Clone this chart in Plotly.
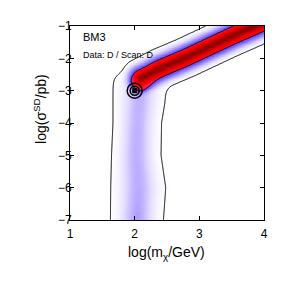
import numpy as np
import plotly.graph_objects as go

# ---- axes ----
x_ticks = [1, 2, 3, 4]
x_tick_labels = ["1", "2", "3", "4"]
y_ticks = [-7, -6, -5, -4, -3, -2, -1]
y_tick_labels = ["\u22127", "\u22126", "\u22125", "\u22124", "\u22123", "\u22122", "\u22121"]

# ---- vertical (low-likelihood) band: outer-contour edges read at several heights ----
band_y = [-7.0, -6.0, -5.0, -4.0, -3.4, -2.8]
band_left = [1.63, 1.63, 1.64, 1.66, 1.66, 1.66]
band_right = [2.44, 2.48, 2.41, 2.42, 2.47, 2.50]
band_peak = [0.26, 0.25, 0.245, 0.24, 0.24, 0.24]
band_top = -2.5

# ---- diagonal (high-likelihood) ridge ----
ridge_x = [2.10, 2.40, 2.80, 3.47, 4.05]
ridge_y = [-2.62, -2.31, -1.97, -1.34, -0.83]
# cross-section of the ridge (distance in x-units, perpendicular) -> relative likelihood
ridge_profile_d = [0.0, 0.03, 0.06, 0.10, 0.128, 0.16, 0.20, 0.25, 0.31, 0.45]
ridge_profile_z = [1.0, 0.93, 0.78, 0.50, 0.32, 0.30, 0.26, 0.16, 0.0455, 0.0]

best_fit_x = [2.0]
best_fit_y = [-3.0]

contour_levels = [0.0455, 0.32]

# ---- build likelihood field from the read values ----
xs = np.linspace(1, 4, 301)
ys = np.linspace(-7, -1, 301)
X, Y = np.meshgrid(xs, ys)

c = (np.interp(Y, band_y, band_left) + np.interp(Y, band_y, band_right)) / 2
s = (np.interp(Y, band_y, band_right) - np.interp(Y, band_y, band_left)) / 2 / 1.845
amp = np.interp(Y, band_y, band_peak)
z_v = amp * np.exp(-(X - c) ** 2 / (2 * s ** 2)) / (1 + np.exp((Y - band_top) / 0.1))

U, V = X, Y / 2.0
d = np.full(X.shape, np.inf)
for i in range(len(ridge_x) - 1):
    ax, ay = ridge_x[i], ridge_y[i] / 2
    bx, by = ridge_x[i + 1], ridge_y[i + 1] / 2
    vx, vy = bx - ax, by - ay
    t = np.clip(((U - ax) * vx + (V - ay) * vy) / (vx * vx + vy * vy), 0, 1)
    dd = np.hypot(U - (ax + t * vx), V - (ay + t * vy))
    d = np.minimum(d, dd)
z_d = np.interp(d, ridge_profile_d, ridge_profile_z)

p = 3
Z = (z_v ** p + z_d ** p) ** (1 / p)

colorscale = [
    [0.00, "#ffffff"],
    [0.05, "#fefeff"],
    [0.10, "#f6f3ff"],
    [0.18, "#e2daff"],
    [0.25, "#bcacff"],
    [0.28, "#9686ff"],
    [0.31, "#6656f8"],
    [0.325, "#c030a0"],
    [0.34, "#ff1a30"],
    [0.45, "#ff0000"],
    [0.65, "#ee0000"],
    [0.82, "#c80000"],
    [1.00, "#8a0000"],
]

fig = go.Figure()
fig.add_trace(go.Heatmap(x=xs, y=ys, z=Z, colorscale=colorscale, zmin=0, zmax=1,
                         showscale=False, hoverinfo="skip"))
for lev in contour_levels:
    fig.add_trace(go.Contour(x=xs, y=ys, z=Z, autocontour=False,
                             contours=dict(start=lev, end=lev, size=1, coloring="none"),
                             line=dict(color="black", width=1), showscale=False,
                             hoverinfo="skip"))

fig.add_trace(go.Scatter(x=best_fit_x, y=best_fit_y, mode="markers",
                         marker=dict(symbol="circle-open", size=15, color="black",
                                     line=dict(width=1.5, color="black"))))
fig.add_trace(go.Scatter(x=best_fit_x, y=best_fit_y, mode="markers",
                         marker=dict(symbol="circle-open", size=9, color="black",
                                     line=dict(width=1.5, color="black"))))
fig.add_trace(go.Scatter(x=best_fit_x, y=best_fit_y, mode="markers",
                         marker=dict(symbol="square", size=5, color="black")))

font_family = "Liberation Sans, Arial, sans-serif"
axis_common = dict(showgrid=False, zeroline=False, showline=True, linecolor="black",
                   linewidth=1, mirror="allticks", ticks="inside", ticklen=4,
                   tickcolor="black", tickfont=dict(size=12, color="black", family=font_family))

fig.update_layout(
    width=283, height=283,
    margin=dict(l=62, r=27, t=18, b=71),
    paper_bgcolor="white", plot_bgcolor="white",
    showlegend=False,
    xaxis=dict(range=[1, 4], tickvals=x_ticks, ticktext=x_tick_labels,
               ticklabelstandoff=3, **axis_common),
    yaxis=dict(range=[-7, -1], tickvals=y_ticks, ticktext=y_tick_labels,
               ticklabelstandoff=-5, **axis_common),
    annotations=[
        dict(x=1.165, y=-1.34, xref="x", yref="y", text="BM3", showarrow=False,
             xanchor="left", yanchor="middle", font=dict(size=11, color="black", family=font_family)),
        dict(x=1.165, y=-1.90, xref="x", yref="y", text="Data: D / Scan: D", showarrow=False,
             xanchor="left", yanchor="middle", font=dict(size=9, color="black", family=font_family)),
        dict(x=0.497, y=-0.115, xref="paper", yref="paper", text="log(m<sub>\u03c7</sub>/GeV)",
             showarrow=False, xanchor="center", yanchor="top",
             font=dict(size=14, color="black", family=font_family)),
        dict(x=-0.155, y=0.572, xref="paper", yref="paper", text="log(\u03c3<sup>SD</sup>/pb)",
             showarrow=False, xanchor="center", yanchor="middle", textangle=-90,
             font=dict(size=14, color="black", family=font_family)),
    ],
)

fig.write_html("out.html")
